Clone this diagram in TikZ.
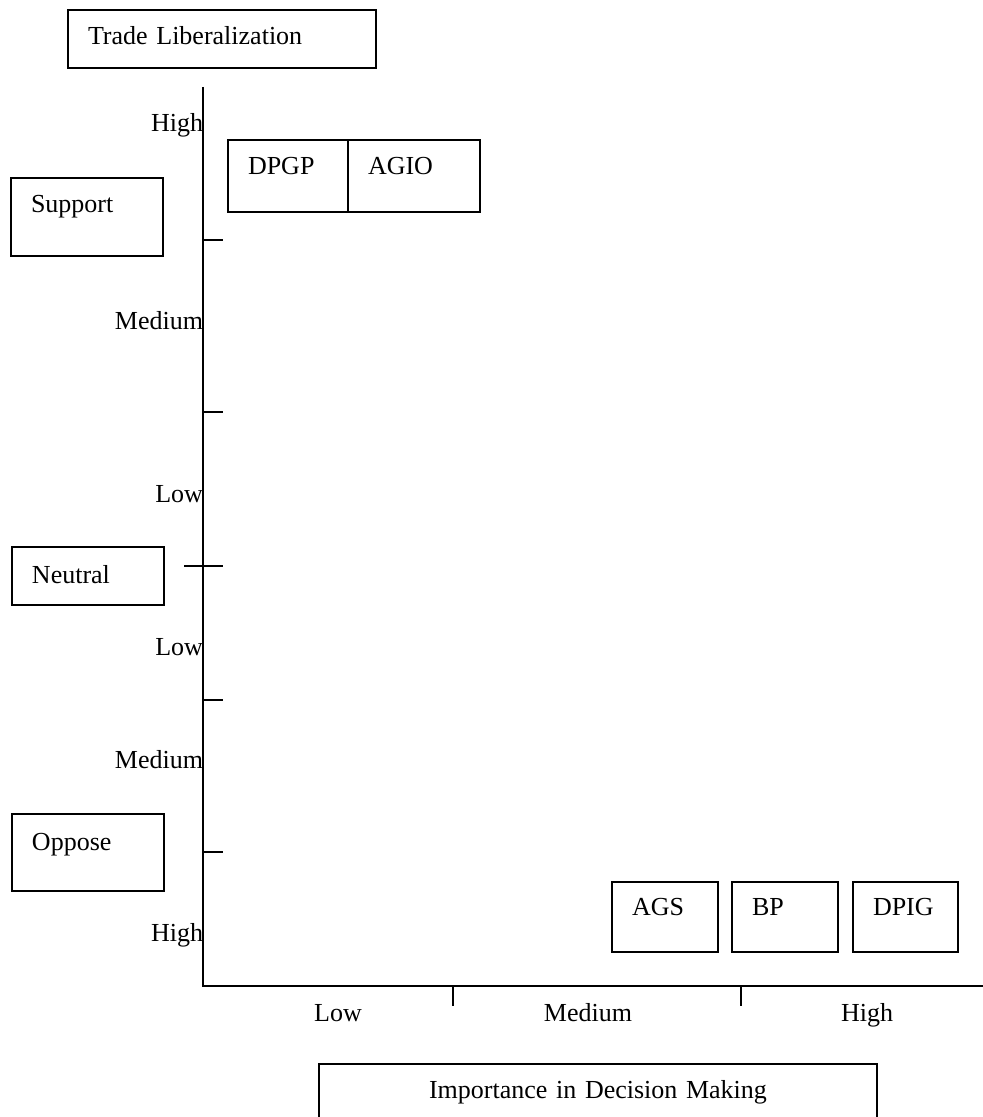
\documentclass[tikz,border=0pt]{standalone}
\usepackage{fontspec}
\setmainfont{Liberation Serif}
\usetikzlibrary{positioning}

\begin{document}
\begin{tikzpicture}[x=0.5pt,y=-0.5pt,font=\fontsize{13}{15}\selectfont,line width=1pt]
  \tikzset{catbox/.style={draw,anchor=north west,align=left,outer sep=0pt,inner ysep=0pt,inner xsep=10pt,text height=17.5pt}}
  \tikzset{ticklabel/.style={inner sep=0pt}}
  \useasboundingbox (0,0) rectangle (983,1117);
  % boxes
  \node[catbox,text width=134pt,text depth=11.5pt] (trade) at (68,10) {Trade Liberalization};
  \node[catbox,text width=56pt,text depth=21.5pt] (support) at (11,178) {Support};
  \node[catbox,text width=56pt,text height=18pt,text depth=11pt] (neutral) at (12,547) {Neutral};
  \node[catbox,text width=56pt,text height=18pt,text depth=20.5pt] (oppose) at (12,814) {Oppose};
  \node[catbox,text width=40pt,text depth=18.5pt] (dpgp) at (228,140) {DPGP};
  \node[catbox,text width=46pt,text depth=18.5pt] (agio) at (dpgp.north east) {AGIO};
  \node[catbox,text width=33pt,text height=16.5pt,text depth=18.5pt] (ags) at (612,882) {AGS};
  \node[catbox,text width=33pt,text height=16.5pt,text depth=18.5pt] (bp) at (732,882) {BP};
  \node[catbox,text width=32.5pt,text height=16.5pt,text depth=18.5pt] (dpig) at (853,882) {DPIG};
  \node[catbox,align=center,inner xsep=0pt,text width=279pt,text height=17pt,text depth=12pt] (importance) at (319,1064) {Importance in Decision Making};
  % axes
  \coordinate (ytop) at (203,87);
  \coordinate (origin) at (203,986);
  \coordinate (xend) at (983,986);
  \draw[line width=1.2pt] (ytop) -- (origin) -- (xend);
  \foreach \y in {240,412,700,852}
    \draw (203,\y) -- (223,\y);
  \draw (184,566) -- (223,566);
  \foreach \x in {453,741}
    \draw (\x,986) -- (\x,1006);
  % axis labels
  \node[ticklabel,anchor=base east] (yhigh1) at (204,132) {High};
  \node[ticklabel,anchor=base east] (ymed1) at (204,329) {Medium};
  \node[ticklabel,anchor=base east] (ylow1) at (204,502) {Low};
  \node[ticklabel,anchor=base east] (ylow2) at (204,655) {Low};
  \node[ticklabel,anchor=base east] (ymed2) at (204,768) {Medium};
  \node[ticklabel,anchor=base east] (yhigh2) at (204,941) {High};
  \node[ticklabel,anchor=base] (xlow) at (338,1021) {Low};
  \node[ticklabel,anchor=base] (xmed) at (588,1021) {Medium};
  \node[ticklabel,anchor=base] (xhigh) at (867,1021) {High};
\end{tikzpicture}
\end{document}
